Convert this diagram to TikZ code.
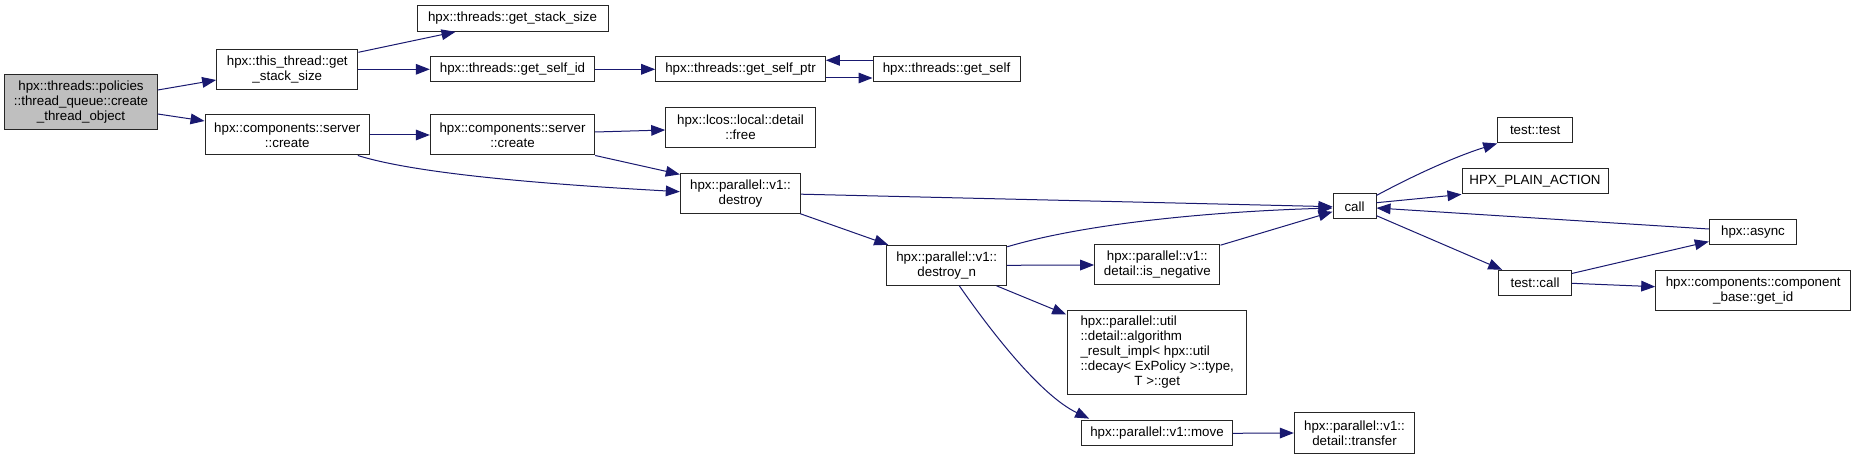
\documentclass[tikz,border=0pt]{standalone}
\usepackage{fontspec}
\setmainfont{Liberation Sans}
\usetikzlibrary{calc,arrows.meta}
\definecolor{navy}{HTML}{191970}
\definecolor{boxgray}{HTML}{BFBFBF}
\tikzset{
  fn/.style={draw=black!85, line width=0.75pt, inner sep=0pt, align=center, fill=white,
    font=\fontsize{10}{11.25}\selectfont},
  conn/.style={draw=navy, line width=0.75pt, -{Triangle[length=10.5pt,width=8pt]}}
}
\begin{document}
\begin{tikzpicture}[x=0.75pt,y=-0.75pt]
\fill[white] (0,0) rectangle (1856,459);
\path[use as bounding box] (0,0) rectangle (1856,459);

% nodes
\node[fn, minimum width=152.6*0.75pt, minimum height=55*0.75pt, fill=boxgray] (root) at (81,102.5) {hpx::threads::policies\\::thread\_queue::create\\\_thread\_object};
\node[fn, minimum width=141.3*0.75pt, minimum height=40*0.75pt] (thisthread) at (287.3,69.3) {hpx::this\_thread::get\\\_stack\_size};
\node[fn, minimum width=191*0.75pt, minimum height=26*0.75pt] (tgss) at (512.5,18.3) {hpx::threads::get\_stack\_size};
\node[fn, minimum width=164.4*0.75pt, minimum height=25.3*0.75pt] (selfid) at (512.5,69.3) {hpx::threads::get\_self\_id};
\node[fn, minimum width=169.6*0.75pt, minimum height=25.3*0.75pt] (selfptr) at (740.5,69.3) {hpx::threads::get\_self\_ptr};
\node[fn, minimum width=147*0.75pt, minimum height=25.3*0.75pt] (self) at (946.5,69.3) {hpx::threads::get\_self};
\node[fn, minimum width=164.3*0.75pt, minimum height=40*0.75pt] (create1) at (287.2,135) {hpx::components::server\\::create};
\node[fn, minimum width=164.4*0.75pt, minimum height=40*0.75pt] (create2) at (512.5,135) {hpx::components::server\\::create};
\node[fn, minimum width=149.6*0.75pt, minimum height=40*0.75pt] (free) at (740.5,127.7) {hpx::lcos::local::detail\\::free};
\node[fn, minimum width=120.4*0.75pt, minimum height=40*0.75pt] (destroy) at (740.5,193.2) {hpx::parallel::v1::\\destroy};
\node[fn, minimum width=120*0.75pt, minimum height=40*0.75pt] (destroyn) at (946.7,265.3) {hpx::parallel::v1::\\destroy\_n};
\node[fn, minimum width=125.3*0.75pt, minimum height=40*0.75pt] (isneg) at (1157.3,265) {hpx::parallel::v1::\\detail::is\_negative};
\node[fn, minimum width=179*0.75pt, minimum height=84*0.75pt] (algo) at (1157.2,353) {\begin{tabular}{@{}l@{}}hpx::parallel::util\\::detail::algorithm\\\_result\_impl< hpx::util\\::decay< ExPolicy >::type,\\\multicolumn{1}{@{}c@{}}{T >::get}\end{tabular}};
\node[fn, minimum width=150.6*0.75pt, minimum height=25.3*0.75pt] (move) at (1157,433.3) {hpx::parallel::v1::move};
\node[fn, minimum width=120.4*0.75pt, minimum height=40*0.75pt] (transfer) at (1354.5,433) {hpx::parallel::v1::\\detail::transfer};
\node[fn, minimum width=43*0.75pt, minimum height=25.3*0.75pt] (call) at (1354.5,206.3) {call};
\node[fn, minimum width=75*0.75pt, minimum height=25.3*0.75pt] (testtest) at (1535.2,130.3) {test::test};
\node[fn, minimum width=146*0.75pt, minimum height=25.3*0.75pt] (hpa) at (1535,181.3) {HPX\_PLAIN\_ACTION};
\node[fn, minimum width=87.4*0.75pt, minimum height=25.3*0.75pt] (async) at (1753,231.7) {hpx::async};
\node[fn, minimum width=72.6*0.75pt, minimum height=25*0.75pt] (testcall) at (1535,282.8) {test::call};
\node[fn, minimum width=195*0.75pt, minimum height=40.4*0.75pt] (getid) at (1753.2,290.5) {hpx::components::component\\\_base::get\_id};

% connectors
\draw[conn] ($(root.east)+(0,-12.5)$) -- ($(thisthread.west)+(0,10.7)$);
\draw[conn] ($(root.east)+(0,11.5)$) -- ($(create1.west)+(0,-14)$);
\draw[conn] ($(thisthread.east)+(0,-17)$) -- ($(tgss.south)+(-57,0)$);
\draw[conn] (thisthread.east) -- (selfid.west);
\draw[conn] (selfid.east) -- (selfptr.west);
\draw[conn] ($(selfptr.east)+(0,8.7)$) -- ($(self.west)+(0,8.7)$);
\draw[conn] ($(self.west)+(0,-9)$) -- ($(selfptr.east)+(0,-9)$);
\draw[conn] (create1.east) -- (create2.west);
\draw[conn] ($(create1.south east)+(-12,0)$) .. controls (420,175) and (560,185) .. ($(destroy.west)+(0,-1.5)$);
\draw[conn] ($(create2.east)+(0,-3)$) -- ($(free.west)+(0,2.3)$);
\draw[conn] (create2.south east) -- ($(destroy.north west)+(0,1.7)$);
\draw[conn] ($(destroy.east)+(0,1)$) -- ($(call.west)+(0,0.4)$);
\draw[conn] ($(destroy.south east)+(-1,0)$) -- ($(destroyn.north west)+(2,0)$);
\draw[conn] ($(destroyn.north east)+(0,2)$) .. controls (1080,225) and (1200,212) .. ($(call.west)+(0,1.7)$);
\draw[conn] (destroyn.east) -- (isneg.west);
\draw[conn] ($(destroyn.south east)+(-10.7,0)$) -- ($(algo.north west)+(-1,4)$);
\draw[conn] ($(destroyn.south)+(12.6,0)$) .. controls (990,330) and (1040,395) .. ($(move.north west)+(8,-1.5)$);
\draw[conn] (move.east) -- (transfer.west);
\draw[conn] ($(isneg.north east)+(0,0.7)$) -- ($(call.west)+(0,5.4)$);
\draw[conn] ($(call.north east)+(0,2.3)$) .. controls (1420,172) and (1460,155) .. (testtest.south west);
\draw[conn] ($(call.east)+(0,-3.6)$) -- (hpa.south west);
\draw[conn] ($(async.west)+(0,-2.7)$) -- ($(call.east)+(0,1.7)$);
\draw[conn] ($(call.east)+(0,9.4)$) -- ($(testcall.north west)+(4,0)$);
\draw[conn] ($(testcall.north east)+(0,3.7)$) -- ($(async.south west)+(0,-3.3)$);
\draw[conn] ($(testcall.east)+(0,0.5)$) -- ($(getid.west)+(0,-3.8)$);
\end{tikzpicture}
\end{document}
